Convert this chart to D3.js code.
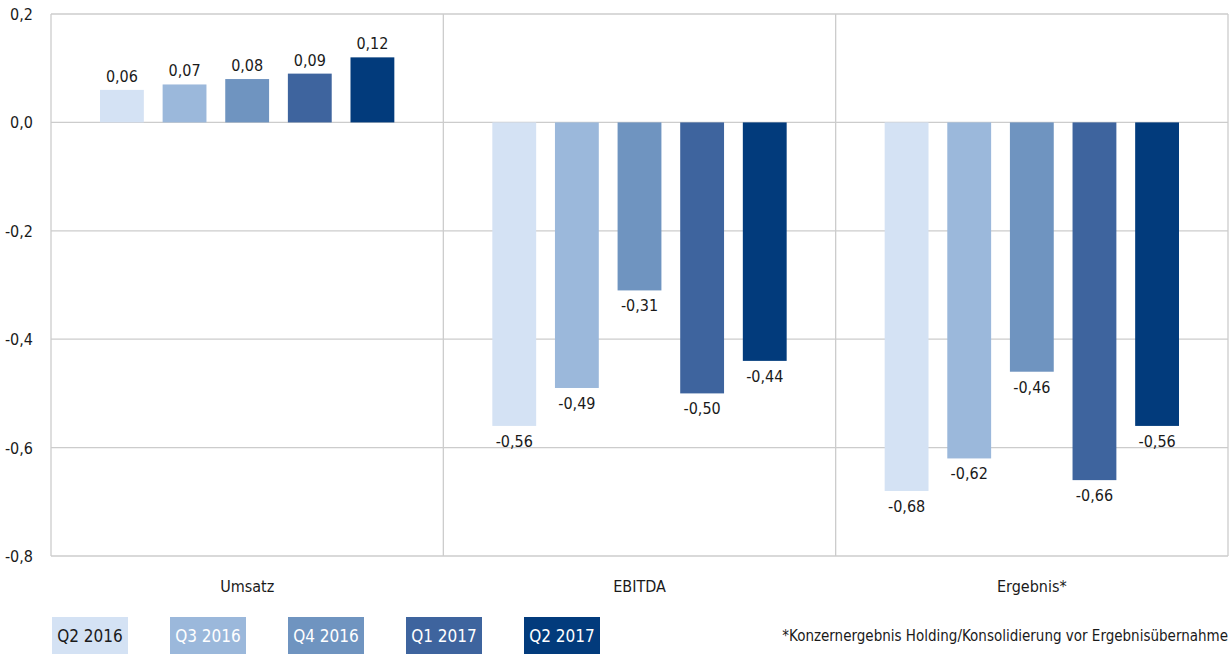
<!DOCTYPE html>
<html><head><meta charset="utf-8">
<script src="https://cdn.jsdelivr.net/npm/d3@7"></script>
<style>
body{margin:0;background:#fff;}
text{font-family:"DejaVu Sans Condensed","Roboto",sans-serif;fill:#1a1a1a;}
</style></head><body>
<svg id="c" width="1229" height="655"></svg>
<script>
const categories = ["Umsatz", "EBITDA", "Ergebnis*"];
const series = ["Q2 2016", "Q3 2016", "Q4 2016", "Q1 2017", "Q2 2017"];
const valuesQ2_2016 = [0.06, -0.56, -0.68];
const valuesQ3_2016 = [0.07, -0.49, -0.62];
const valuesQ4_2016 = [0.08, -0.31, -0.46];
const valuesQ1_2017 = [0.09, -0.50, -0.66];
const valuesQ2_2017 = [0.12, -0.44, -0.56];
const yTicks = [0.2, 0.0, -0.2, -0.4, -0.6, -0.8];
const colors = ["#d4e2f4", "#9bb8db", "#6f94c0", "#3e649e", "#023b7c"];
const legendTextColors = ["#1a1a1a", "#ffffff", "#ffffff", "#ffffff", "#ffffff"];
const footnote = "*Konzernergebnis Holding/Konsolidierung vor Ergebnisübernahme";

const allValues = [valuesQ2_2016, valuesQ3_2016, valuesQ4_2016, valuesQ1_2017, valuesQ2_2017];
const fmt = v => d3.format(".2f")(v).replace(".", ",").replace("\u2212", "-");
const fmtTick = v => d3.format(".1f")(v).replace(".", ",").replace("\u2212", "-");

const svg = d3.select("#c");
const pL = 51, pR = 1228, pT = 14, pB = 556;

const y = d3.scaleLinear().domain([-0.8, 0.2]).range([pB, pT]);
const x0 = d3.scaleBand().domain(categories).range([pL, pR]).padding(0);
const x1 = d3.scaleBand().domain(series).range([49, x0.bandwidth() - 49]).paddingInner(0.3).paddingOuter(0);

const grid = svg.append("g");
grid.selectAll("line.h").data(yTicks).enter().append("line")
  .attr("x1", pL).attr("x2", pR)
  .attr("y1", d => y(d)).attr("y2", d => y(d))
  .attr("stroke", "#cccccc").attr("stroke-width", 1.3);
const seps = categories.map(c => x0(c)).concat([pR]);
grid.selectAll("line.v").data(seps).enter().append("line")
  .attr("x1", d => d).attr("x2", d => d)
  .attr("y1", pT).attr("y2", pB)
  .attr("stroke", "#cccccc").attr("stroke-width", 1.3);

svg.append("g").selectAll("text").data(yTicks).enter().append("text")
  .attr("x", 33).attr("y", d => y(d) + 6)
  .attr("text-anchor", "end").attr("font-size", 16)
  .text(fmtTick);

const rows = [];
categories.forEach((c, ci) => series.forEach((s, si) => rows.push({c, s, si, v: allValues[si][ci]})));
svg.append("g").selectAll("rect").data(rows).enter().append("rect")
  .attr("x", d => x0(d.c) + x1(d.s))
  .attr("width", x1.bandwidth())
  .attr("y", d => y(Math.max(0, d.v)))
  .attr("height", d => Math.abs(y(d.v) - y(0)))
  .attr("fill", d => colors[d.si]);

svg.append("g").selectAll("text").data(rows).enter().append("text")
  .attr("x", d => x0(d.c) + x1(d.s) + x1.bandwidth() / 2)
  .attr("y", d => d.v >= 0 ? y(d.v) - 8 : y(d.v) + 21)
  .attr("text-anchor", "middle").attr("font-size", 16)
  .text(d => fmt(d.v));

svg.append("g").selectAll("text").data(categories).enter().append("text")
  .attr("x", d => x0(d) + x0.bandwidth() / 2).attr("y", 592)
  .attr("text-anchor", "middle").attr("font-size", 16)
  .text(d => d);

const legX = d3.scalePoint().domain(series).range([52, 524]);
const lg = svg.append("g").selectAll("g").data(series).enter().append("g")
  .attr("transform", d => `translate(${legX(d)},617)`);
lg.append("rect").attr("width", 76).attr("height", 37).attr("fill", (d, i) => colors[i]);
lg.append("text").attr("x", 38).attr("y", 25).attr("text-anchor", "middle")
  .attr("font-size", 17).style("fill", (d, i) => legendTextColors[i]).text(d => d);

svg.append("text").attr("x", 1228).attr("y", 641).attr("text-anchor", "end")
  .attr("font-size", 15).text(footnote);
</script>
</body></html>
